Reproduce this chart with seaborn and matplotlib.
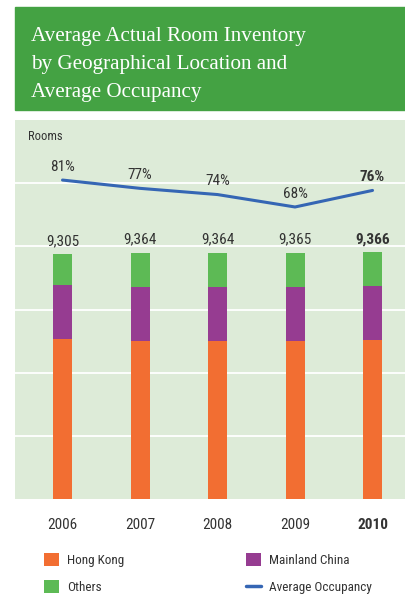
import matplotlib
matplotlib.use("Agg")
import matplotlib.pyplot as plt
from matplotlib import font_manager
from matplotlib.patches import Rectangle, Patch
from matplotlib.lines import Line2D
import seaborn as sns
import pandas as pd
import numpy as np

# ---- data ----
years = ["2006", "2007", "2008", "2009", "2010"]
hong_kong = [6075, 6000, 6000, 6015, 6029]
mainland_china = [2038, 2064, 2064, 2056, 2048]
others = [1192, 1300, 1300, 1294, 1289]
totals = [9305, 9364, 9364, 9365, 9366]
occupancy = [81, 77, 74, 68, 76]

# ---- fonts ----
names = {f.name for f in font_manager.fontManager.ttflist}
cond = None
for cand in ["Liberation Sans Narrow", "DejaVu Sans Condensed", "Roboto Condensed", "Open Sans Condensed"]:
    if cand in names:
        cond = cand
        break
sans = [cond, "DejaVu Sans"] if cond else ["DejaVu Sans"]
serif = ["Liberation Serif", "DejaVu Serif"]

sns.set_theme(style="white")
plt.rcParams["font.family"] = sans

HEADER = "#44a243"
PANEL = "#ddebd8"
ORANGE = "#f26e32"
PURPLE = "#963c91"
GREEN = "#5dba55"
BLUE = "#3566b4"
TXT = "#333333"

df = pd.DataFrame({
    "year": years,
    "hk": hong_kong,
    "mc": mainland_china,
    "ot": others,
    "total": totals,
})
df["hk_mc"] = df["hk"] + df["mc"]
df["all"] = df["hk_mc"] + df["ot"]

W, H = 406, 595
fig = plt.figure(figsize=(W / 100, H / 100), dpi=100)

# header box
fig.patches.append(Rectangle((15 / W, 1 - 110 / H), 1 - 15 / W, 103 / H,
                             transform=fig.transFigure, color=HEADER, zorder=0))
fig.text(31 / W, 1 - 27 / H, "Average Actual Room Inventory\nby Geographical Location and\nAverage Occupancy",
         color="white", family=serif, fontsize=15.2, va="top", ha="left",
         linespacing=1.64, transform=fig.transFigure)

ax = fig.add_axes([15 / W, 1 - 499 / H, 1 - 15 / W, (499 - 120) / H])
ax.set_facecolor(PANEL)

bw = 19 / 77.5
sns.barplot(data=df, x="year", y="all", color=GREEN, width=bw, ax=ax, saturation=1, linewidth=0)
sns.barplot(data=df, x="year", y="hk_mc", color=PURPLE, width=bw, ax=ax, saturation=1, linewidth=0)
sns.barplot(data=df, x="year", y="hk", color=ORANGE, width=bw, ax=ax, saturation=1, linewidth=0)

ax.set_ylim(0, 14400)
ax.set_yticks(np.arange(2400, 14400, 2400))
ax.yaxis.grid(True, color="white", linewidth=1.3)
ax.set_axisbelow(True)
ax.set_xlim(-0.613, 4.432)
ax.set_xlabel("")
ax.set_ylabel("")
for s in ax.spines.values():
    s.set_visible(False)

for i, t in enumerate(df["total"]):
    ax.annotate(f"{t:,}", (i, df["all"][i]), xytext=(0, 4.5), textcoords="offset points",
                ha="center", va="bottom", fontsize=11, color=TXT,
                fontweight="bold" if years[i] == "2010" else "normal")

fig.text(28 / W, 1 - 136 / H, "Rooms", fontsize=9, color=TXT, va="center", ha="left")

# occupancy line
ax2 = ax.twinx()
occ_df = pd.DataFrame({"pos": list(range(len(years))), "occ": occupancy})
sns.lineplot(data=occ_df, x="pos", y="occ", color=BLUE, linewidth=2.2, ax=ax2)
ax2.set_ylim(-73, 110)
ax2.set_xlim(-0.613, 4.432)
ax2.axis("off")
for i, v in enumerate(occupancy):
    ax2.annotate(f"{v}%", (i, v), xytext=(0, 4.5), textcoords="offset points",
                 ha="center", va="bottom", fontsize=11, color=TXT,
                 fontweight="bold" if years[i] == "2010" else "normal")

ax.tick_params(axis="y", left=False, right=False, labelleft=False, labelright=False)
ax.tick_params(axis="x", bottom=False, pad=8, labelsize=11, labelcolor=TXT)
for lbl in ax.get_xticklabels():
    if lbl.get_text() == "2010":
        lbl.set_fontweight("bold")

# legends
h1 = [Patch(facecolor=ORANGE, edgecolor="none"), Patch(facecolor=GREEN, edgecolor="none")]
h2 = [Patch(facecolor=PURPLE, edgecolor="none"), Line2D([0], [0], color=BLUE, lw=2.5)]
common = dict(frameon=False, fontsize=9.5, handlelength=1.15, handleheight=1.15,
              handletextpad=0.6, labelspacing=1.0, borderpad=0, borderaxespad=0,
              labelcolor=TXT)
fig.legend(h1, ["Hong Kong", "Others"], loc="upper left",
           bbox_to_anchor=(44 / W, 1 - 553 / H), **common)
fig.legend(h2, ["Mainland China", "Average Occupancy"], loc="upper left",
           bbox_to_anchor=(246 / W, 1 - 553 / H), **common)

fig.savefig("out.png", dpi=100)
